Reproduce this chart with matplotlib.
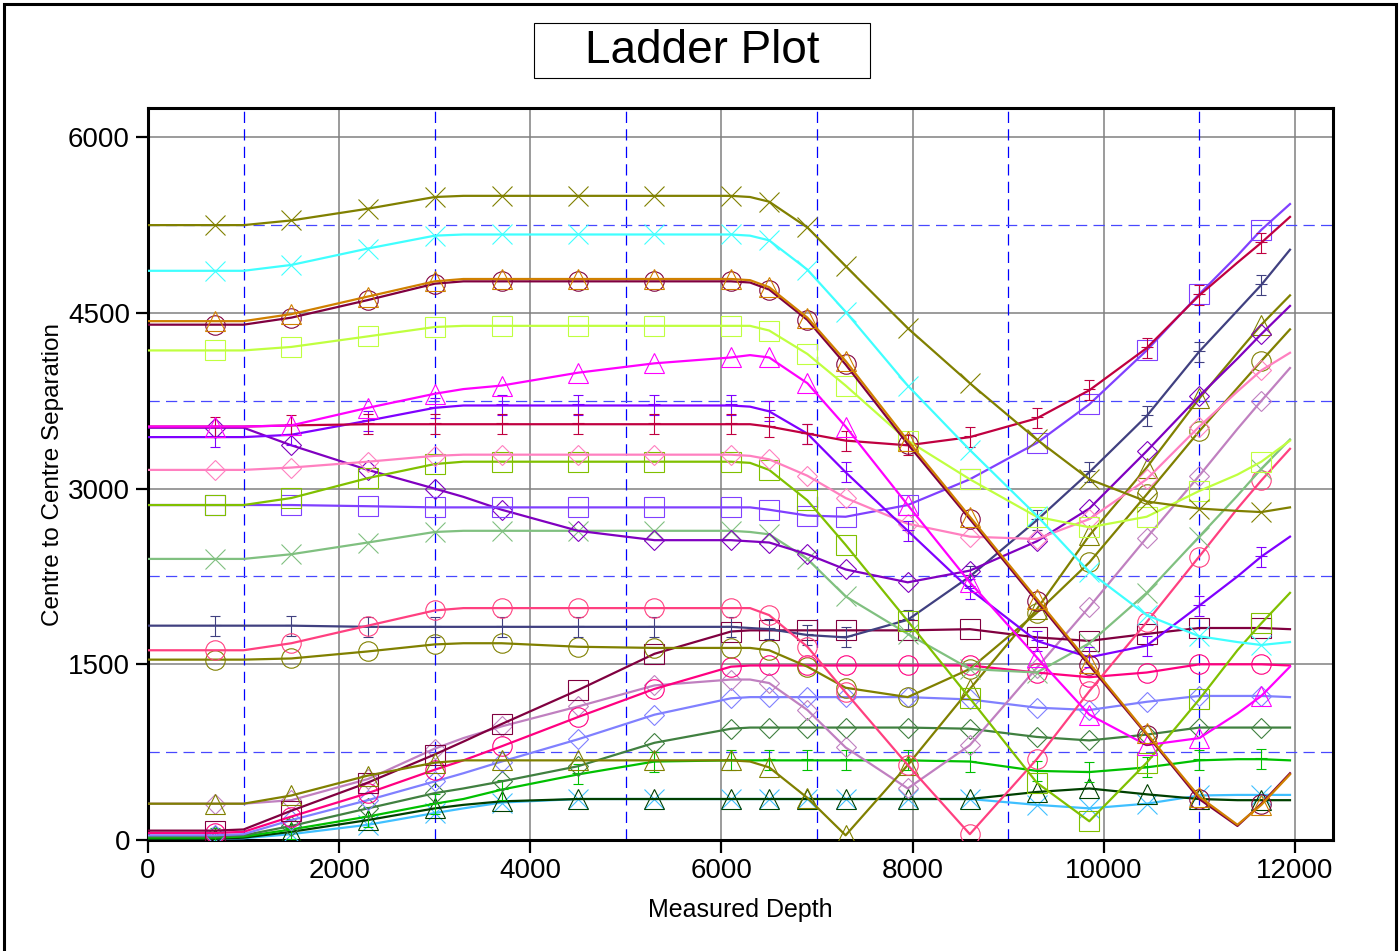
import numpy as np
import matplotlib
matplotlib.use("Agg")
import matplotlib.pyplot as plt
from matplotlib.path import Path
from matplotlib.patches import Rectangle

plt.rcParams['font.family'] = ['Liberation Sans', 'DejaVu Sans']

# measured depth stations shared by every offset well
md = [0, 700, 1000, 1500, 2300, 3000, 3300, 3700, 4500, 5300, 6100, 6300,
      6500, 6900, 7300, 7950, 8600, 9300, 9850, 10450, 11000, 11400, 11650, 11950]
marker_idx = [1, 3, 4, 5, 7, 8, 9, 10, 12, 13, 14, 15, 16, 17, 18, 19, 20, 22]

olive_x = [5250, 5250, 5250, 5290, 5390, 5490, 5500, 5500, 5500, 5500, 5500, 5490,
           5450, 5230, 4900, 4370, 3900, 3420, 3080, 2890, 2830, 2810, 2800, 2840]
cyan_x = [4860, 4860, 4860, 4910, 5050, 5160, 5170, 5170, 5170, 5170, 5170, 5160,
          5120, 4870, 4510, 3880, 3330, 2770, 2290, 1920, 1740, 1690, 1665, 1690]
orange_tri = [4430, 4430, 4430, 4490, 4640, 4770, 4790, 4790, 4790, 4790, 4790, 4780,
              4720, 4460, 4090, 3410, 2760, 2060, 1510, 910, 370, 130, 300, 560]
maroon_circ = [4400, 4400, 4400, 4460, 4610, 4750, 4770, 4770, 4770, 4770, 4770, 4760,
               4700, 4440, 4060, 3380, 2740, 2040, 1490, 900, 350, 120, 310, 570]
lime_sq = [4180, 4180, 4180, 4210, 4300, 4380, 4390, 4390, 4390, 4390, 4390, 4390,
           4350, 4150, 3880, 3410, 3080, 2760, 2670, 2760, 2980, 3120, 3230, 3410]
magenta_tri = [3530, 3530, 3530, 3540, 3690, 3810, 3850, 3880, 3990, 4070, 4120, 4140,
               4120, 3900, 3530, 2860, 2200, 1560, 1070, 810, 870, 1080, 1230, 1480]
crimson_plus = [3530, 3530, 3530, 3540, 3550, 3550, 3550, 3550, 3550, 3550, 3550, 3550,
                3530, 3470, 3410, 3370, 3440, 3600, 3840, 4200, 4650, 4930, 5100, 5320]
purple_plus = [3440, 3440, 3440, 3460, 3580, 3690, 3710, 3710, 3710, 3710, 3710, 3700,
               3660, 3470, 3140, 2640, 2140, 1700, 1560, 1660, 2000, 2250, 2420, 2590]
pink_dia = [3160, 3160, 3160, 3180, 3230, 3280, 3290, 3290, 3290, 3290, 3290, 3280,
            3250, 3110, 2920, 2700, 2590, 2570, 2740, 3080, 3530, 3830, 4010, 4160]
ygreen_sq = [2860, 2860, 2860, 2920, 3090, 3210, 3230, 3230, 3230, 3230, 3230, 3220,
             3160, 2900, 2520, 1870, 1210, 490, 160, 660, 1200, 1620, 1850, 2110]
mpurple_sq = [2860, 2860, 2860, 2860, 2850, 2840, 2840, 2840, 2840, 2840, 2840, 2840,
              2820, 2770, 2760, 2860, 3080, 3390, 3720, 4180, 4660, 4990, 5210, 5430]
violet_dia = [3520, 3520, 3520, 3370, 3160, 3000, 2930, 2820, 2640, 2560, 2560, 2550,
              2540, 2440, 2310, 2200, 2300, 2550, 2830, 3320, 3790, 4110, 4320, 4560]
lgreen_x = [2400, 2400, 2400, 2440, 2540, 2630, 2640, 2640, 2640, 2640, 2640, 2630,
            2610, 2400, 2080, 1760, 1460, 1430, 1680, 2110, 2590, 2940, 3170, 3420]
rose_circ = [1620, 1620, 1620, 1680, 1830, 1960, 1980, 1980, 1980, 1980, 1980, 1980,
             1920, 1650, 1260, 640, 50, 690, 1270, 1860, 2420, 2830, 3070, 3340]
slate_plus = [1830, 1830, 1830, 1830, 1820, 1820, 1820, 1820, 1820, 1820, 1820, 1810,
              1800, 1750, 1730, 1880, 2250, 2730, 3140, 3620, 4170, 4520, 4740, 5040]
olive_circ = [1540, 1540, 1540, 1550, 1610, 1670, 1680, 1680, 1650, 1640, 1640, 1640,
              1620, 1480, 1300, 1220, 1460, 1940, 2370, 2950, 3490, 3860, 4090, 4360]
olive_tri = [310, 310, 310, 380, 550, 660, 680, 680, 680, 680, 680, 670,
             620, 360, 40, 640, 1290, 1970, 2600, 3180, 3770, 4160, 4400, 4650]
maroon_sq = [80, 80, 90, 250, 490, 730, 840, 990, 1280, 1590, 1780, 1790,
             1790, 1790, 1790, 1790, 1800, 1730, 1700, 1760, 1810, 1810, 1810, 1800]
dpink_circ = [60, 60, 70, 200, 400, 600, 680, 800, 1050, 1290, 1480, 1490,
              1490, 1490, 1490, 1490, 1490, 1430, 1390, 1430, 1500, 1500, 1500, 1490]
orchid_dia = [310, 310, 310, 340, 520, 780, 870, 970, 1140, 1320, 1370, 1370,
              1340, 1110, 790, 440, 810, 1470, 1990, 2580, 3110, 3510, 3750, 4030]
peri_dia = [40, 40, 50, 170, 340, 500, 570, 670, 860, 1070, 1210, 1220,
            1220, 1220, 1220, 1220, 1200, 1130, 1110, 1180, 1230, 1230, 1230, 1220]
dgreen_dia = [30, 30, 40, 120, 270, 400, 440, 500, 630, 830, 950, 960,
              960, 960, 960, 960, 950, 880, 850, 900, 960, 960, 960, 960]
green_plus = [20, 20, 30, 90, 200, 310, 350, 430, 560, 670, 680, 680,
              680, 680, 680, 680, 670, 590, 580, 620, 680, 690, 690, 680]
dkgreen_tri = [10, 10, 20, 70, 170, 270, 300, 330, 350, 350, 350, 350,
               350, 350, 350, 350, 350, 410, 440, 390, 350, 340, 340, 340]
sky_x = [10, 10, 15, 50, 130, 230, 270, 320, 350, 350, 350, 350,
         350, 350, 350, 350, 350, 300, 270, 310, 380, 385, 385, 385]

# "+" marker with end bars
plus_bar = Path(
    [(0, -1), (0, 1), (-0.5, 1), (0.5, 1), (-0.6, 0.1), (0.6, 0.1),
     (-0.5, -1), (0.5, -1)],
    [Path.MOVETO, Path.LINETO, Path.MOVETO, Path.LINETO, Path.MOVETO, Path.LINETO,
     Path.MOVETO, Path.LINETO])

series = [
    (sky_x, '#40C0FF', 'x', 14),
    (dkgreen_tri, '#004000', '^', 14),
    (green_plus, '#00C000', plus_bar, 14),
    (dgreen_dia, '#408040', 'D', 10),
    (peri_dia, '#8080FF', 'D', 10),
    (orchid_dia, '#C080C0', 'D', 10),
    (dpink_circ, '#FF0080', 'o', 14),
    (maroon_sq, '#800040', 's', 14),
    (olive_tri, '#808000', '^', 14),
    (olive_circ, '#808000', 'o', 14),
    (slate_plus, '#404080', plus_bar, 14),
    (rose_circ, '#FF4080', 'o', 14),
    (lgreen_x, '#80C080', 'x', 14),
    (violet_dia, '#8000C0', 'D', 10),
    (mpurple_sq, '#8040FF', 's', 14),
    (ygreen_sq, '#80C000', 's', 14),
    (pink_dia, '#FF80C0', 'D', 10),
    (purple_plus, '#8000FF', plus_bar, 14),
    (crimson_plus, '#C00040', plus_bar, 14),
    (magenta_tri, '#FF00FF', '^', 14),
    (lime_sq, '#C0FF40', 's', 14),
    (maroon_circ, '#800040', 'o', 14),
    (orange_tri, '#D08000', '^', 14),
    (cyan_x, '#40FFFF', 'x', 14),
    (olive_x, '#808000', 'x', 14),
]

fig = plt.figure(figsize=(14, 9.51), dpi=100)
ax = fig.add_axes([148 / 1400, 111 / 951, 1185 / 1400, 732 / 951])

# grids: solid grey at major ticks, dashed blue in between
for x in range(2000, 12001, 2000):
    ax.axvline(x, color='#808080', lw=1.1, zorder=1)
for y in range(1500, 6001, 1500):
    ax.axhline(y, color='#808080', lw=1.1, zorder=1)
for x in range(1000, 12000, 2000):
    ax.axvline(x, color='#0000FF', lw=0.9, ls=(0, (9, 5)), zorder=1)
for y in range(750, 6000, 1500):
    ax.axhline(y, color='#4848FF', lw=0.9, ls=(0, (9, 5)), zorder=1)

for vals, col, mk, ms in series:
    ax.plot(md, vals, color=col, lw=1.6, marker=mk, ms=ms, mfc='none', mec=col,
            mew=0.8, markevery=marker_idx, zorder=3)

ax.set_xlim(0, 12400)
ax.set_ylim(0, 6250)
ax.set_xticks(range(0, 12001, 2000))
ax.set_yticks(range(0, 6001, 1500))
ax.tick_params(direction='out', length=9, width=1.6, labelsize=20, pad=4)
for s in ax.spines.values():
    s.set_linewidth(2.2)
ax.set_xlabel('Measured Depth', fontsize=18, labelpad=10)
ax.set_ylabel('Centre to Centre Separation', fontsize=17.5, labelpad=3)

fig.patches.append(Rectangle((534 / 1400, 1 - 78 / 951), 336 / 1400, 55 / 951,
                             transform=fig.transFigure, fill=False, ec='black', lw=0.8))
fig.text(702 / 1400, 1 - 51 / 951, 'Ladder Plot', ha='center', va='center', fontsize=33)

fig.patches.append(Rectangle((4 / 1400, -0.05), 1392 / 1400, 1.05 - 4 / 951,
                             transform=fig.transFigure, fill=False, ec='black', lw=2.2))

fig.savefig('out.png', dpi=100)
